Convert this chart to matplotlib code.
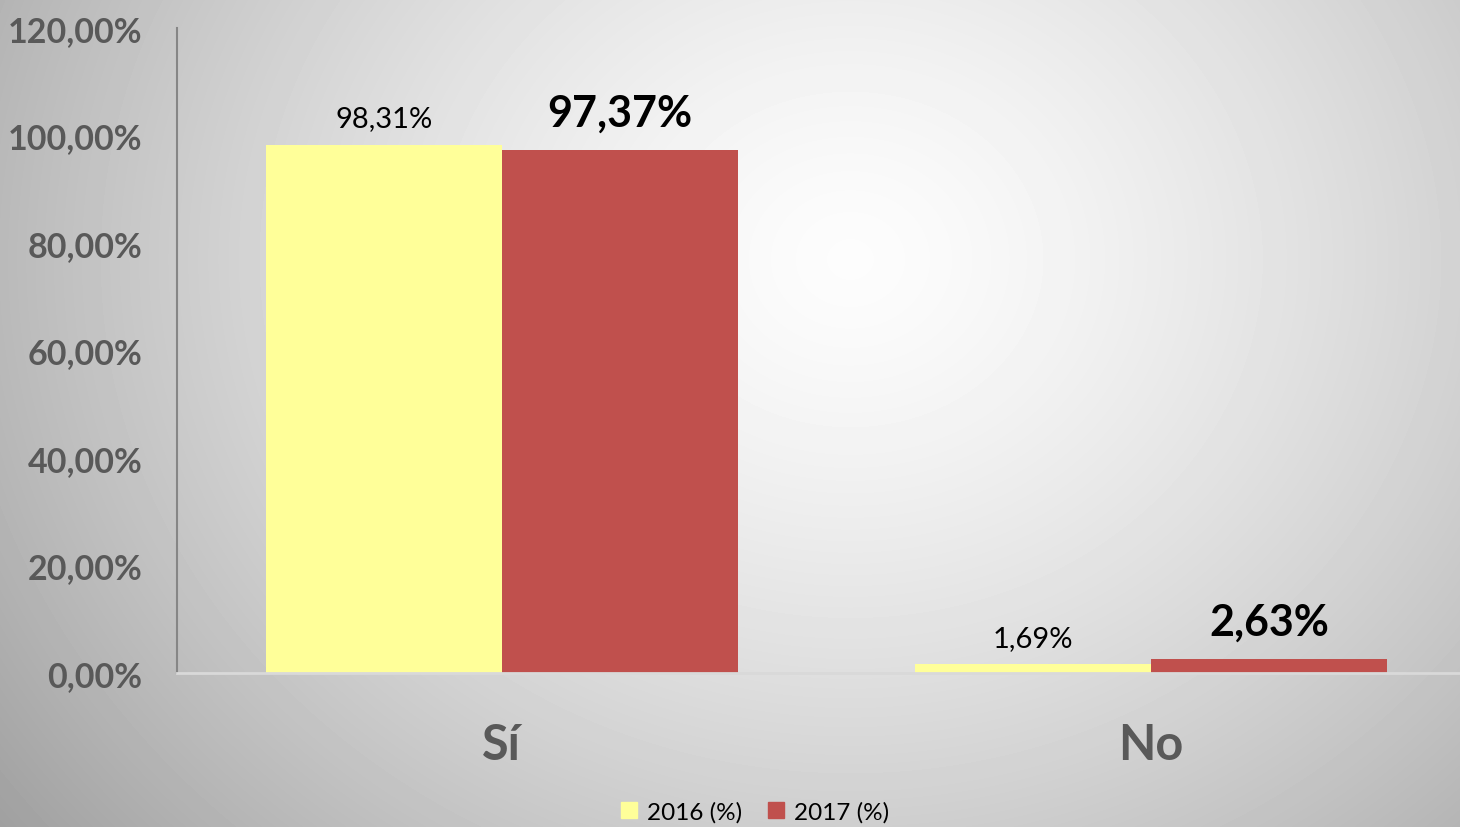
import numpy as np
import matplotlib.pyplot as plt
from matplotlib.patches import Patch

# data
categories = ['Sí', 'No']
vals_2016 = [98.31, 1.69]
vals_2017 = [97.37, 2.63]
series_names = ['2016 (%)', '2017 (%)']
y_ticks = [0, 20, 40, 60, 80, 100, 120]

YELLOW = '#FFFF99'
RED = '#C0504D'
GREY_TXT = '#595959'

plt.rcParams['font.family'] = ['Lato', 'DejaVu Sans']


def pct(v):
    return f'{v:.2f}%'.replace('.', ',')


def main():
    W, H = 1460, 828
    fig = plt.figure(figsize=(W / 100, H / 100), dpi=100)

    # radial grey background
    bg = fig.add_axes([0, 0, 1, 1], zorder=-10)
    yy, xx = np.mgrid[0:H, 0:W]
    r = np.hypot(xx - 850, (yy - 260) * 1.15) / 1000.0
    img = np.clip(0.99 - 0.33 * r ** 1.4, 0, 1)
    bg.imshow(img, cmap='gray', vmin=0, vmax=1, aspect='auto',
              extent=[0, 1, 0, 1], interpolation='bilinear')
    bg.axis('off')

    ax = fig.add_axes([177 / W, 1 - 674 / H, (1476 - 177) / W, (674 - 29) / H])
    ax.patch.set_alpha(0)

    x = np.arange(len(categories))
    w = 0.3636
    b1 = ax.bar(x - w / 2, vals_2016, w, color=YELLOW, label=series_names[0])
    b2 = ax.bar(x + w / 2, vals_2017, w, color=RED, label=series_names[1])

    for rect, v in zip(b1, vals_2016):
        ax.annotate(pct(v), (rect.get_x() + rect.get_width() / 2, v),
                    xytext=(0, 13), textcoords='offset points',
                    ha='center', va='baseline', fontsize=21, color='black')
    for rect, v in zip(b2, vals_2017):
        ax.annotate(pct(v), (rect.get_x() + rect.get_width() / 2, v),
                    xytext=(0, 17.5), textcoords='offset points',
                    ha='center', va='baseline', fontsize=31,
                    fontweight='bold', color='black')

    ax.set_xlim(-0.5, 1.5)
    ax.set_ylim(0, 120)
    ax.set_yticks(y_ticks)
    ax.set_yticklabels([pct(t) for t in y_ticks], fontsize=24.5,
                       fontweight='bold', color=GREY_TXT)
    ax.set_xticks(x)
    ax.set_xticklabels(categories, fontsize=35, fontweight='bold',
                       color=GREY_TXT)
    ax.tick_params(axis='y', length=0, pad=25)
    ax.tick_params(axis='x', length=0, pad=35)

    for s in ['top', 'right']:
        ax.spines[s].set_visible(False)
    ax.spines['left'].set_color('#868686')
    ax.spines['left'].set_linewidth(1.5)
    ax.spines['bottom'].set_color('#D9D9D9')
    ax.spines['bottom'].set_linewidth(2)

    handles = [Patch(color=YELLOW), Patch(color=RED)]
    fig.legend(handles, series_names, loc='center',
               bbox_to_anchor=(755 / W, 1 - 813 / H), ncol=2, frameon=False,
               fontsize=17.5, handlelength=0.65, handleheight=0.65,
               handletextpad=0.4, columnspacing=1.1)

    fig.savefig('out.png', dpi=100)


if __name__ == '__main__':
    main()
